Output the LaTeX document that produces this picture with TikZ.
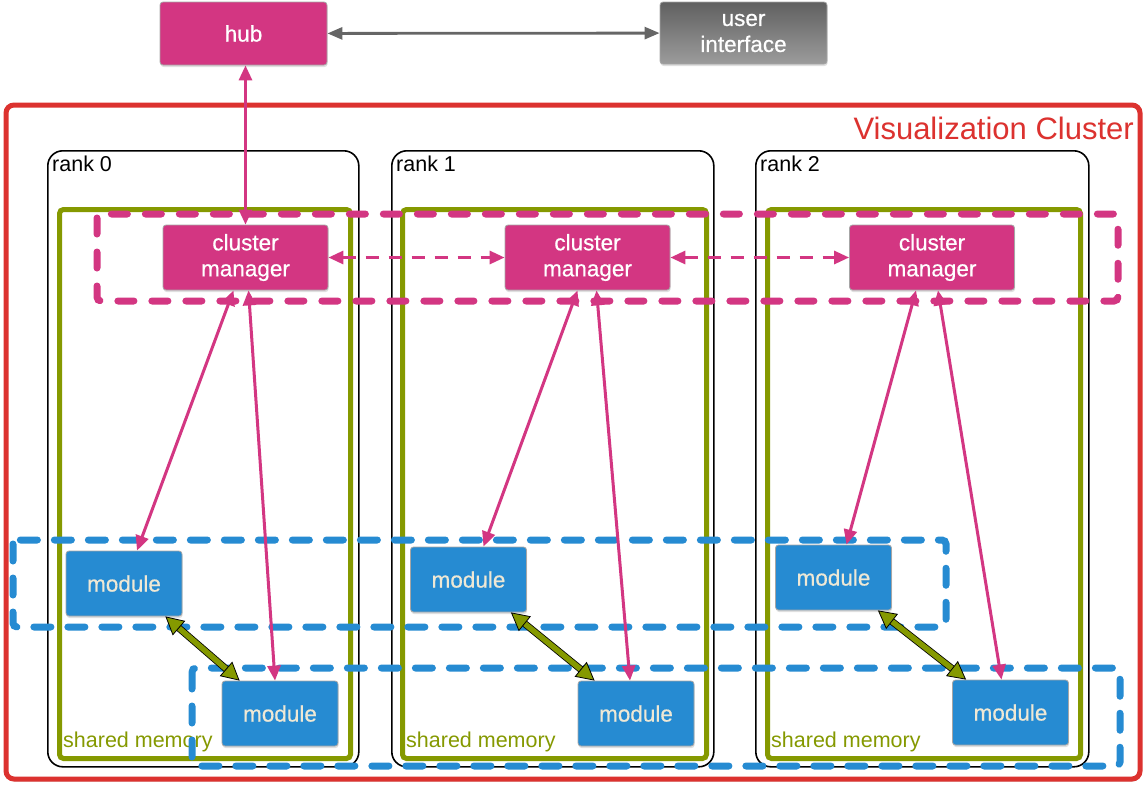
\documentclass[tikz,border=0pt]{standalone}
\usepackage{fontspec}
\setmainfont{Liberation Sans}
\newfontfamily\boxfont{Liberation Sans}[FakeBold=0.6]
\usetikzlibrary{positioning, arrows.meta, shadows}

\definecolor{hubpink}{RGB}{211,54,130}
\definecolor{modblue}{RGB}{38,139,210}
\definecolor{shmgreen}{RGB}{133,153,0}
\definecolor{clusterred}{RGB}{220,50,47}
\definecolor{cream}{RGB}{238,232,213}
\definecolor{uitop}{RGB}{96,96,96}
\definecolor{uibot}{RGB}{156,156,156}

\tikzset{
  box/.style={rounded corners=3pt, draw=black!35, line width=0.8pt, text=white, align=center,
    font=\boxfont\fontsize{22.5}{26}\selectfont,
    drop shadow={shadow xshift=0.6pt, shadow yshift=-2pt, opacity=0.25}}, % all the coloured boxes
  hubbox/.style={box, fill=hubpink, minimum width=167pt, minimum height=63pt},
  uibox/.style={box, top color=uitop, bottom color=uibot, minimum width=167pt, minimum height=62pt},
  manager/.style={box, fill=hubpink, minimum width=165pt, minimum height=65pt},
  module/.style={box, fill=modblue, text=cream, minimum width=116pt, minimum height=65pt},
  rankbox/.style={draw=black, line width=1.6pt, rounded corners=15pt},
  shmframe/.style={draw=shmgreen, line width=5pt, rounded corners=4pt},
  pinkgroup/.style={draw=hubpink, line width=7pt, line cap=round, rounded corners=4pt,
    dash pattern=on 16pt off 18pt},
  bluegroup/.style={draw=modblue, line width=7pt, line cap=round, rounded corners=4pt,
    dash pattern=on 17pt off 17pt},
  link/.style={draw=hubpink, line width=3pt, {Triangle[length=15pt, width=13pt]}-{Triangle[length=15pt, width=13pt]}},
  peer/.style={link, dash pattern=on 13pt off 10pt}, % manager <-> manager
  shmarrow/.style={draw=black, line width=0.8pt, double=shmgreen, double distance=5.5pt,
    {Triangle[length=18pt, width=19pt, fill=shmgreen]}-{Triangle[length=18pt, width=19pt, fill=shmgreen]}},
  ranklabel/.style={anchor=north west, inner sep=2pt, font=\fontsize{21.5}{25}\selectfont},
  shmlabel/.style={anchor=south west, inner sep=2pt, text=shmgreen, font=\fontsize{21.5}{25}\selectfont},
}

\begin{document}
\begin{tikzpicture}[x=1pt, y=-1pt]
  \useasboundingbox (0,0) rectangle (1146,785);

  % cluster frame
  \draw[draw=clusterred, fill=white, line width=5pt, rounded corners=8pt,
    drop shadow={shadow xshift=0.8pt, shadow yshift=-2.5pt, opacity=0.3}] (6,105) rectangle (1140,779);
  \node[anchor=north east, inner sep=3pt, text=clusterred, font=\fontsize{31}{36}\selectfont]
    (title) at (1137,114) {Visualization Cluster};

  % ranks
  \node[rankbox, anchor=north west, minimum width=311pt, minimum height=616pt] (rank0) at (47,150) {};
  \node[rankbox, anchor=north west, minimum width=322pt, minimum height=616pt] (rank1) at (391,150) {};
  \node[rankbox, anchor=north west, minimum width=333pt, minimum height=616pt] (rank2) at (755,150) {};
  \node[ranklabel] at ([shift={(3pt,-4pt)}]rank0.north west) {rank 0};
  \node[ranklabel] at ([shift={(3pt,-4pt)}]rank1.north west) {rank 1};
  \node[ranklabel] at ([shift={(3pt,-4pt)}]rank2.north west) {rank 2};

  % shared memory
  \node[shmframe, anchor=north west, minimum width=291pt, minimum height=549pt] (shm0) at (57,207) {};
  \node[shmframe, anchor=north west, minimum width=304pt, minimum height=549pt] (shm1) at (400,207) {};
  \node[shmframe, anchor=north west, minimum width=313pt, minimum height=549pt] (shm2) at (765,207) {};
  \node[shmlabel] at ([shift={(4pt,7pt)}]shm0.south west) {shared memory};
  \node[shmlabel] at ([shift={(4pt,7pt)}]shm1.south west) {shared memory};
  \node[shmlabel] at ([shift={(4pt,7pt)}]shm2.south west) {shared memory};

  % groups
  \draw[pinkgroup] (97,214) rectangle (1118,301);
  \draw[bluegroup] (13,540) rectangle (946,627);
  \draw[bluegroup] (192,668) rectangle (1120,766);

  % boxes
  \node[hubbox] (hub) at (243.5,33.5) {hub};
  \node[uibox] (ui) at (743.5,33) {user\\interface};

  \node[manager] (cm0) at (245.5,257.5) {cluster\\manager};
  \node[manager] (cm1) at (587.5,257.5) {cluster\\manager};
  \node[manager] (cm2) at (932,257.5) {cluster\\manager};

  \node[module] (m0a) at (124,583.5) {module};
  \node[module] (m0b) at (280,713.5) {module};
  \node[module] (m1a) at (468.5,579.5) {module};
  \node[module] (m1b) at (636,713.5) {module};
  \node[module] (m2a) at (833.5,577.5) {module};
  \node[module] (m2b) at (1010.5,712.5) {module};

  % connections
  \draw[draw=black!60, line width=2.8pt, {Triangle[length=15pt, width=12pt]}-{Triangle[length=15pt, width=12pt]}] (hub) -- (ui);
  \draw[link] (cm0.north) -- (cm0.north |- hub.south);
  \draw[peer] (cm0) -- (cm1);
  \draw[peer] (cm1) -- (cm2);

  \draw[link] ([xshift=-12pt]cm0.south) -- ([xshift=13pt]m0a.north);
  \draw[link] ([xshift=3pt]cm0.south) -- ([xshift=-5pt]m0b.north);
  \draw[link] ([xshift=-10pt]cm1.south) -- ([xshift=15pt]m1a.north);
  \draw[link] ([xshift=9pt]cm1.south) -- ([xshift=-6pt]m1b.north);
  \draw[link] ([xshift=-16pt]cm2.south) -- ([xshift=13pt]m2a.north);
  \draw[link] ([xshift=6pt]cm2.south) -- ([xshift=-9pt]m2b.north);

  \draw[shmarrow] ([xshift=-17pt]m0a.south east) -- ([xshift=18pt]m0b.north west);
  \draw[shmarrow] ([xshift=-16pt]m1a.south east) -- ([xshift=17pt]m1b.north west);
  \draw[shmarrow] ([xshift=-14pt]m2a.south east) -- ([xshift=14pt]m2b.north west);
\end{tikzpicture}
\end{document}
